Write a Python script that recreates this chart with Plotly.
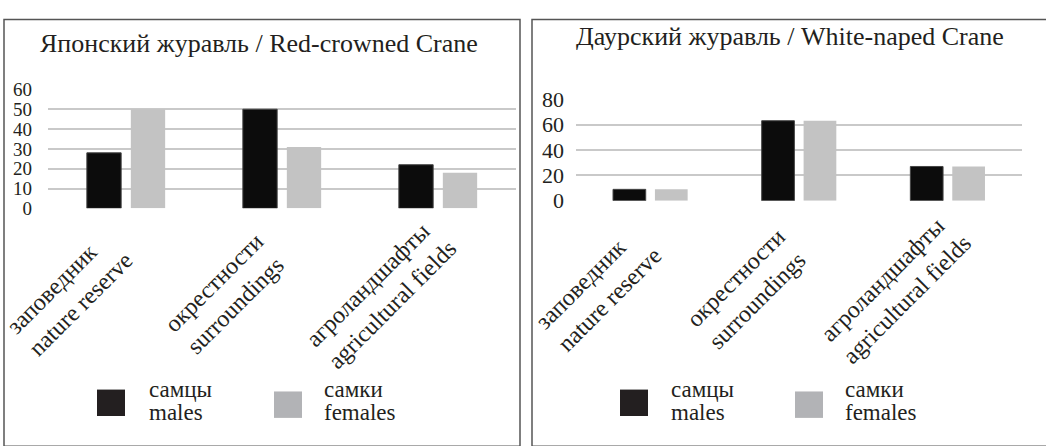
import plotly.graph_objects as go

W, H = 1046, 446

categories = ["nature reserve", "surroundings", "agricultural fields"]
cat_labels = ["заповедник<br>nature reserve", "окрестности<br>surroundings",
              "агроландшафты<br>agricultural fields"]

left_title = "Японский журавль / Red-crowned Crane"
right_title = "Даурский журавль / White-naped Crane"

left_males = [28, 50, 22]
left_females = [50, 31, 18]
right_males = [9, 63, 27]
right_females = [9, 63, 27]

left_ticks = [0, 10, 20, 30, 40, 50, 60]
right_ticks = [0, 20, 40, 60, 80]

legend_names = [("самцы", "males"), ("самки", "females")]

BLACK_BAR = "#0c0c0c"
GRAY_BAR = "#c3c3c3"
BLACK_LEG = "#231f20"
GRAY_LEG = "#b2b3b6"
FONT = "Liberation Serif, Times New Roman, serif"
TXT = "#231f20"


def X(px):
    return px / W


def Y(py):
    return (H - py) / H


fig = go.Figure()

fig.add_trace(go.Bar(x=categories, y=left_males, marker=dict(color=BLACK_BAR, line=dict(color="#444", width=1)),
                     xaxis="x", yaxis="y", showlegend=False))
fig.add_trace(go.Bar(x=categories, y=left_females, marker=dict(color=GRAY_BAR, line=dict(width=0)),
                     xaxis="x", yaxis="y", showlegend=False))
fig.add_trace(go.Bar(x=categories, y=right_males, marker=dict(color=BLACK_BAR, line=dict(color="#444", width=1)),
                     xaxis="x2", yaxis="y2", showlegend=False))
fig.add_trace(go.Bar(x=categories, y=right_females, marker=dict(color=GRAY_BAR, line=dict(width=0)),
                     xaxis="x2", yaxis="y2", showlegend=False))

grid = dict(showgrid=True, gridcolor="#c9c9c9", gridwidth=2, zeroline=False, showline=False, ticks="")

fig.update_layout(
    width=W, height=H,
    margin=dict(l=0, r=0, t=0, b=0),
    paper_bgcolor="white", plot_bgcolor="white",
    barmode="group", bargap=0.436, bargroupgap=0.22,
    font=dict(family=FONT, color=TXT),
    xaxis=dict(domain=[X(48), X(516)], showticklabels=False, showgrid=False, zeroline=False,
               showline=False, ticks="", anchor="y", type="category", range=[-0.5, 2.5],
               autorange=False),
    yaxis=dict(domain=[Y(208), Y(82)], range=[0, 60], tickvals=left_ticks,
               tickfont=dict(size=19, family=FONT, color=TXT), anchor="x",
               ticklabelstandoff=15, **grid),
    xaxis2=dict(domain=[X(576), X(1022)], showticklabels=False, showgrid=False, zeroline=False,
                showline=False, ticks="", anchor="y2", type="category", range=[-0.5, 2.5],
                autorange=False),
    yaxis2=dict(domain=[Y(200), Y(92.3)], range=[0, 80], tickvals=right_ticks,
                tickfont=dict(size=22, family=FONT, color=TXT), anchor="x2",
                ticklabelstandoff=11, **grid),
)

shapes = []
ann = []

# panel borders
shapes.append(dict(type="rect", xref="paper", yref="paper", x0=X(4), x1=X(520), y0=Y(460), y1=Y(8),
                   line=dict(color="#555", width=1.5), fillcolor="rgba(0,0,0,0)", layer="below"))
shapes.append(dict(type="rect", xref="paper", yref="paper", x0=X(532), x1=X(1060), y0=Y(460), y1=Y(8),
                   line=dict(color="#555", width=1.5), fillcolor="rgba(0,0,0,0)", layer="below"))

# titles
ann.append(dict(text=left_title, x=X(259), y=Y(33), xref="paper", yref="paper", showarrow=False,
                xanchor="center", yanchor="middle", font=dict(size=26, family=FONT, color=TXT)))
ann.append(dict(text=right_title, x=X(790), y=Y(26), xref="paper", yref="paper", showarrow=False,
                xanchor="center", yanchor="middle", font=dict(size=26, family=FONT, color=TXT)))

# category labels
for xr, shift, ypix in (("x", -57, 298), ("x2", -52, 293)):
    for c, lab in zip(categories, cat_labels):
        ann.append(dict(text=lab, x=c, xref=xr, y=Y(ypix), yref="paper", showarrow=False,
                        textangle=-45, align="left", xanchor="center", yanchor="middle", xshift=shift,
                        font=dict(size=24, family=FONT, color=TXT)))

# legends
legend_specs = [
    [(97, 400, 147, BLACK_LEG), (274, 402, 322, GRAY_LEG)],
    [(620, 400, 669, BLACK_LEG), (795, 402, 843, GRAY_LEG)],
]
for panel in legend_specs:
    for (sx, sy, tx, col), (ru, en) in zip(panel, legend_names):
        shapes.append(dict(type="rect", xref="paper", yref="paper", x0=X(sx), x1=X(sx + 28),
                           y0=Y(sy + 28), y1=Y(sy), line=dict(width=0), fillcolor=col))
        ann.append(dict(text=ru, x=X(tx), y=Y(400), xref="paper", yref="paper", showarrow=False,
                        xanchor="left", yanchor="middle", font=dict(size=23, family=FONT, color=TXT)))
        ann.append(dict(text=en, x=X(tx), y=Y(424), xref="paper", yref="paper", showarrow=False,
                        xanchor="left", yanchor="middle", font=dict(size=23, family=FONT, color=TXT)))

fig.update_layout(shapes=shapes, annotations=ann)

fig.write_html("out.html")
